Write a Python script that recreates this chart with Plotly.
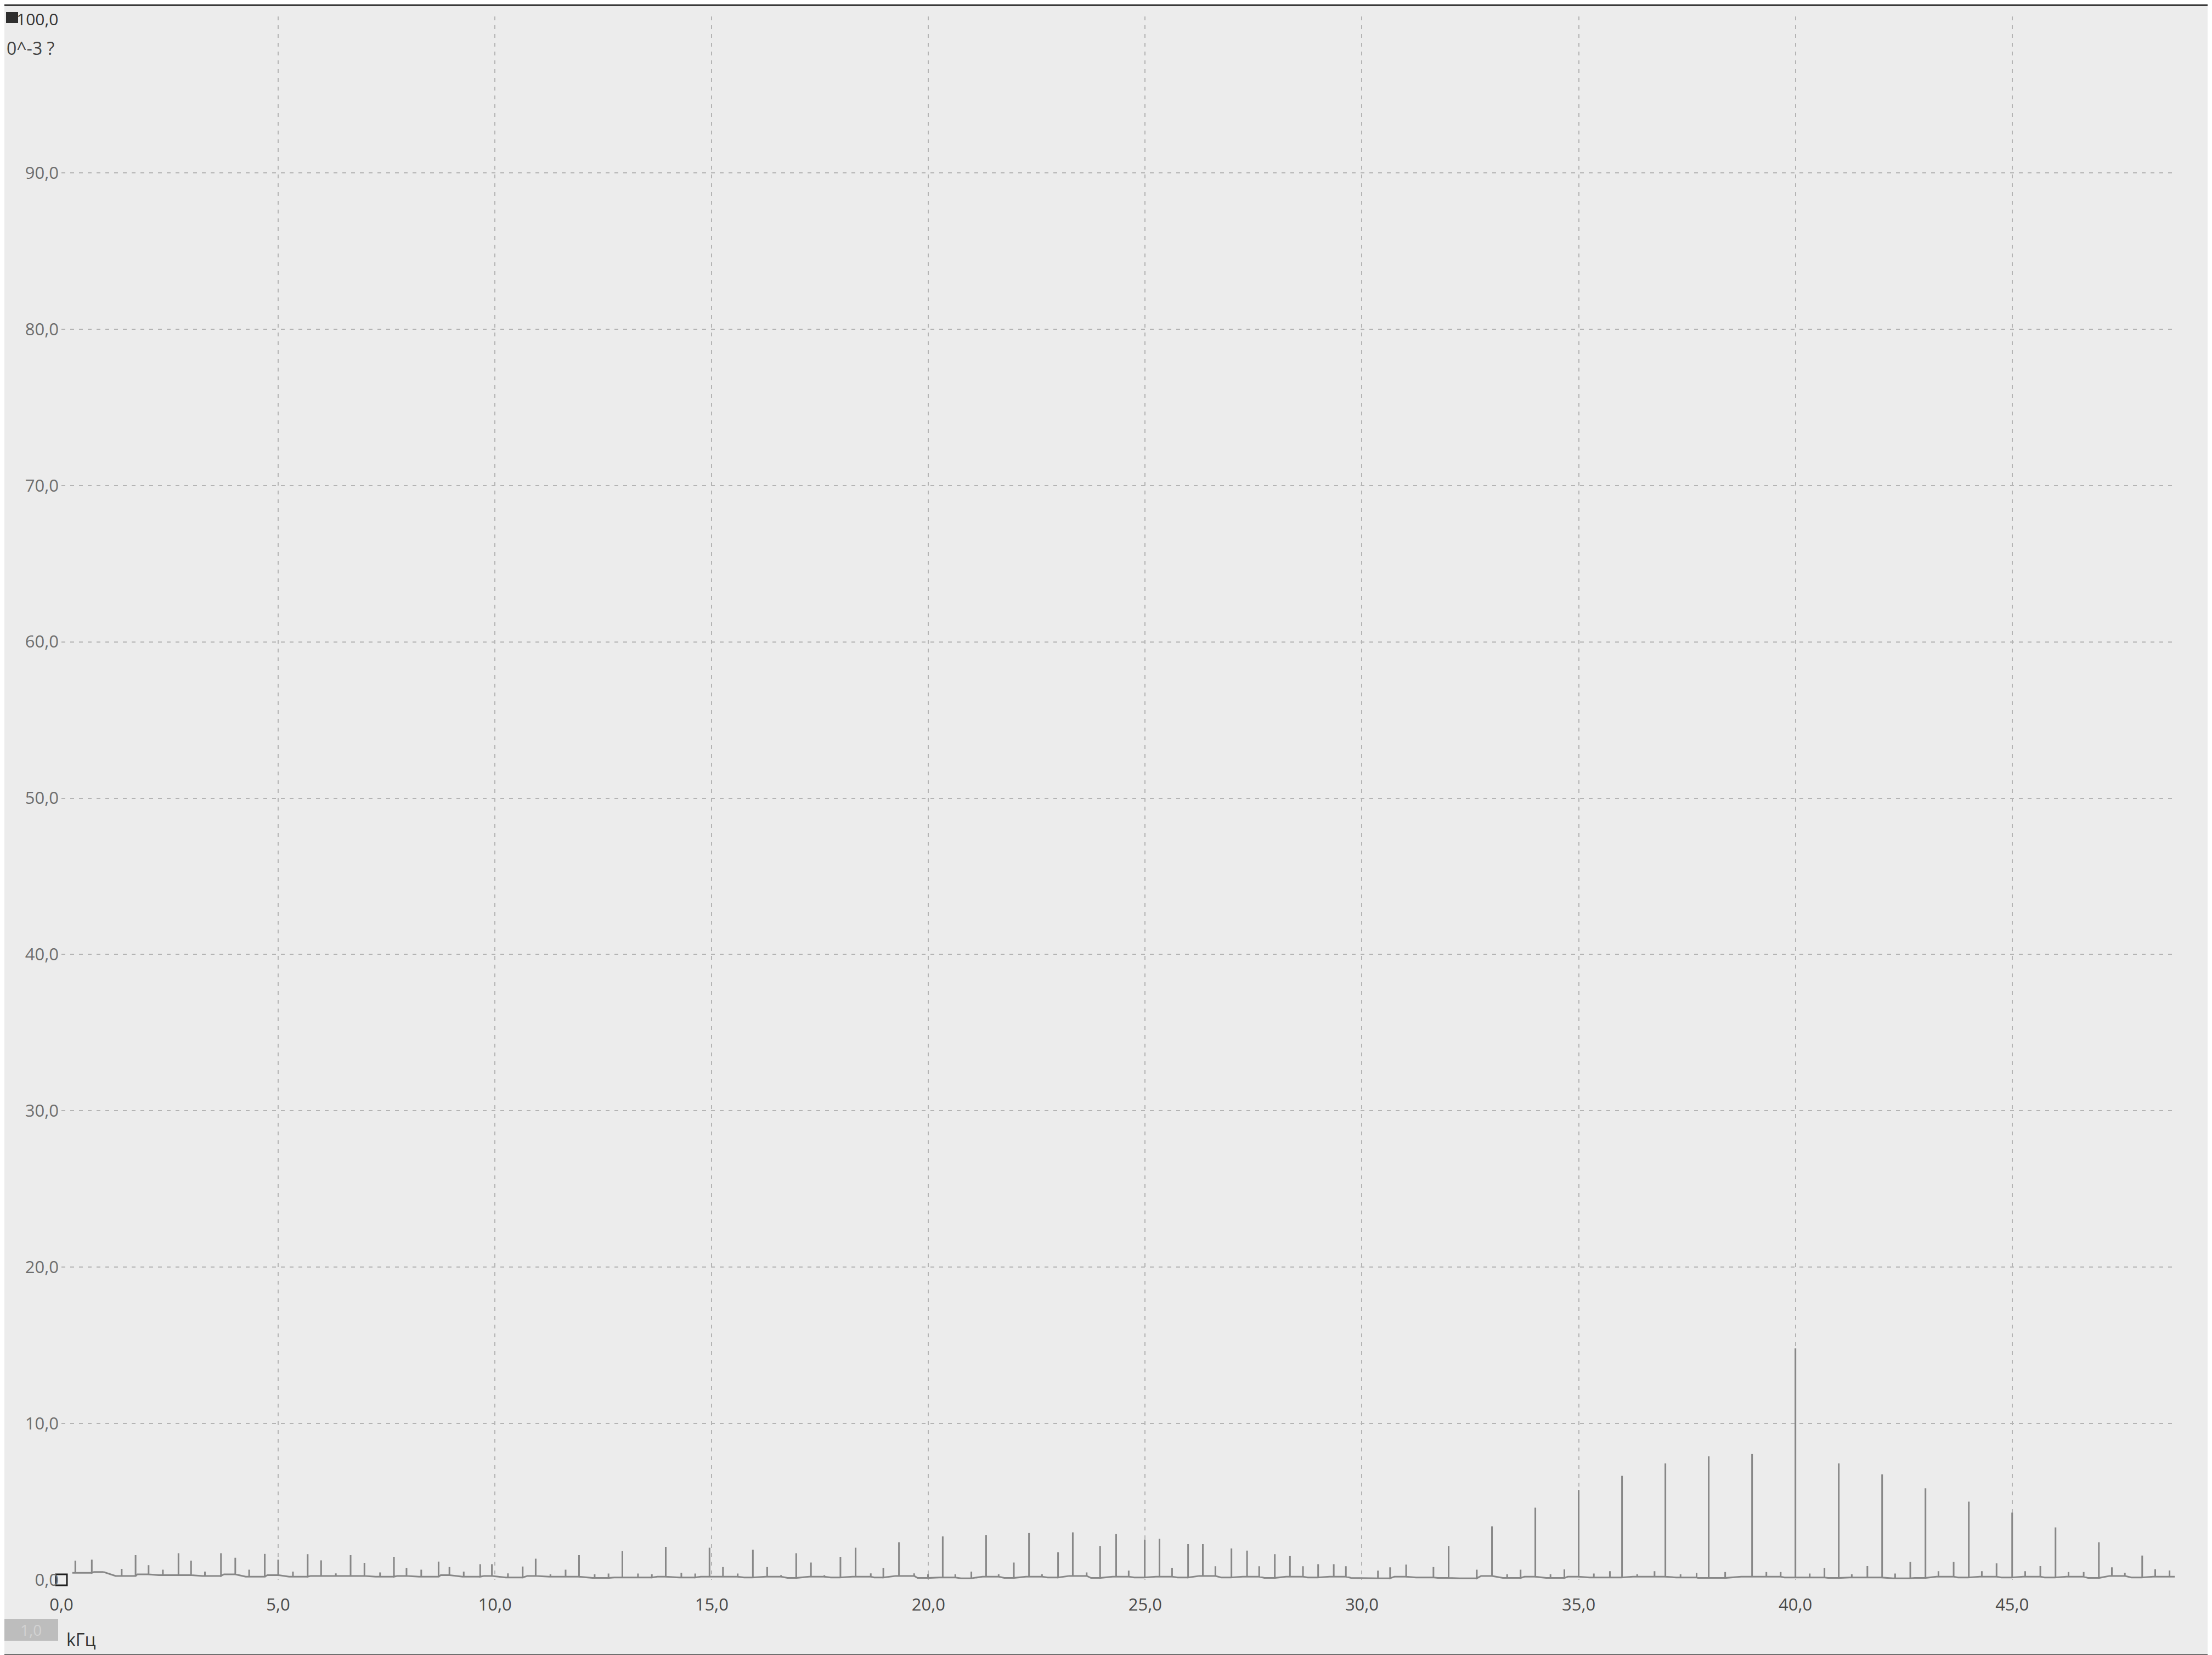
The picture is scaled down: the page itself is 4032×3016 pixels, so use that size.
import plotly.graph_objects as go

# ---------------- data ----------------
# noise-floor samples of the spectrum, kHz / 10^-3 units
floor_khz = [0.25, 0.75, 1.25, 1.75, 2.25, 2.75, 3.25, 3.75, 4.25, 4.75,
             5.25, 5.75, 6.25, 6.75, 7.25, 7.75, 8.25, 8.75, 9.25, 9.75,
             10.25, 10.75, 11.25, 11.75, 12.25, 12.75, 13.25, 13.75, 14.25, 14.75,
             15.25, 15.75, 16.25, 16.75, 17.25, 17.75, 18.25, 18.75, 19.25, 19.75,
             20.25, 20.75, 21.25, 21.75, 22.25, 22.75, 23.25, 23.75, 24.25, 24.75,
             25.25, 25.75, 26.25, 26.75, 27.25, 27.75, 28.25, 28.75, 29.25, 29.75,
             30.25, 30.75, 31.25, 31.75, 32.25, 32.75, 33.25, 33.75, 34.25, 34.75,
             35.25, 35.75, 36.25, 36.75, 37.25, 37.75, 38.25, 38.75, 39.25, 39.75,
             40.25, 40.75, 41.25, 41.75, 42.25, 42.75, 43.25, 43.75, 44.25, 44.75,
             45.25, 45.75, 46.25, 46.75, 47.25, 47.75, 48.25, 48.75]
floor_amp = [0.45, 0.50, 0.25, 0.35, 0.30, 0.30, 0.25, 0.35, 0.20, 0.30,
             0.20, 0.25, 0.25, 0.25, 0.20, 0.25, 0.20, 0.30, 0.20, 0.25,
             0.15, 0.25, 0.20, 0.20, 0.12, 0.15, 0.15, 0.20, 0.15, 0.20,
             0.20, 0.15, 0.20, 0.12, 0.20, 0.15, 0.20, 0.15, 0.25, 0.12,
             0.15, 0.10, 0.20, 0.12, 0.20, 0.15, 0.25, 0.12, 0.20, 0.15,
             0.20, 0.15, 0.25, 0.15, 0.20, 0.12, 0.20, 0.15, 0.20, 0.12,
             0.10, 0.20, 0.15, 0.12, 0.10, 0.25, 0.12, 0.20, 0.12, 0.20,
             0.15, 0.15, 0.20, 0.20, 0.15, 0.12, 0.12, 0.20, 0.20, 0.15,
             0.15, 0.12, 0.15, 0.15, 0.10, 0.12, 0.20, 0.15, 0.20, 0.15,
             0.20, 0.15, 0.20, 0.12, 0.25, 0.15, 0.20, 0.20]

# spectral lines
peak_khz = [0.32, 0.70, 0.97, 1.39, 1.71, 2.01, 2.34, 2.70, 2.99, 3.31,
            3.68, 4.01, 4.33, 4.69, 5.00, 5.34, 5.68, 5.99, 6.33, 6.67,
            6.99, 7.35, 7.67, 7.96, 8.30, 8.70, 8.95, 9.28, 9.66, 9.93,
            10.30, 10.64, 10.94, 11.28, 11.63, 11.94, 12.30, 12.62, 12.94, 13.30,
            13.62, 13.94, 14.30, 14.62, 14.95, 15.26, 15.60, 15.95, 16.28, 16.60,
            16.95, 17.29, 17.60, 17.97, 18.32, 18.67, 18.96, 19.32, 19.67, 19.99,
            20.33, 20.62, 20.99, 21.33, 21.62, 21.97, 22.32, 22.62, 22.99, 23.33,
            23.65, 23.96, 24.33, 24.62, 24.99, 25.33, 25.62, 25.99, 26.33, 26.62,
            26.99, 27.35, 27.63, 27.99, 28.34, 28.64, 28.99, 29.35, 29.63, 30.37,
            30.65, 31.02, 31.65, 32.00, 32.65, 33.00, 33.35, 33.66, 34.00, 34.35,
            34.67, 35.00, 35.35, 35.72, 36.00, 36.35, 36.75, 37.00, 37.35, 37.72,
            38.00, 38.38, 39.00, 39.33, 39.66, 40.00, 40.33, 40.67, 41.00, 41.30,
            41.66, 42.00, 42.30, 42.65, 43.00, 43.30, 43.65, 44.00, 44.30, 44.64,
            45.00, 45.30, 45.65, 46.00, 46.30, 46.65, 47.00, 47.30, 47.60, 48.00,
            48.30, 48.63]
peak_amp = [1.23, 1.29, 0.53, 0.70, 1.58, 0.94, 0.65, 1.70, 1.23, 0.53,
            1.70, 1.41, 0.65, 1.66, 1.29, 0.53, 1.64, 1.25, 0.41, 1.58,
            1.09, 0.47, 1.47, 0.76, 0.65, 1.17, 0.82, 0.53, 1.00, 1.00,
            0.41, 0.85, 1.35, 0.35, 0.65, 1.58, 0.35, 0.40, 1.84, 0.40,
            0.35, 2.11, 0.45, 0.40, 2.05, 0.82, 0.40, 1.93, 0.82, 0.30,
            1.70, 1.11, 0.30, 1.47, 2.05, 0.41, 0.76, 2.40, 0.41, 0.35,
            2.78, 0.35, 0.53, 2.87, 0.35, 1.11, 2.99, 0.35, 1.76, 3.04,
            0.47, 2.17, 2.93, 0.59, 2.58, 2.63, 0.76, 2.28, 2.28, 0.87,
            2.01, 1.87, 0.87, 1.64, 1.52, 0.87, 1.00, 1.00, 0.87, 0.59,
            0.80, 0.97, 0.82, 2.17, 0.65, 3.42, 0.35, 0.65, 4.62, 0.35,
            0.67, 5.75, 0.40, 0.55, 6.65, 0.35, 0.55, 7.45, 0.35, 0.44,
            7.90, 0.50, 8.05, 0.50, 0.50, 14.80, 0.40, 0.76, 7.45, 0.35,
            0.88, 6.75, 0.40, 1.15, 5.85, 0.55, 1.15, 5.00, 0.55, 1.05,
            4.30, 0.55, 0.88, 3.35, 0.50, 0.50, 2.40, 0.80, 0.45, 1.55,
            0.68, 0.60]

y_ticks = [0, 10, 20, 30, 40, 50, 60, 70, 80, 90, 100]
y_tick_text = ["0,0", "10,0", "20,0", "30,0", "40,0", "50,0", "60,0", "70,0",
               "80,0", "90,0", ""]
y_top_label = "100,0"
x_ticks = [0, 5, 10, 15, 20, 25, 30, 35, 40, 45]
x_tick_text = ["0,0", "5,0", "10,0", "15,0", "20,0", "25,0", "30,0", "35,0", "40,0", "45,0"]
x_range = [0, 48.8]
y_range = [0, 100]

# ---------------- build the spectrum line ----------------
events = sorted([(f, 0, a) for f, a in zip(floor_khz, floor_amp)] +
                [(f, 1, a) for f, a in zip(peak_khz, peak_amp)])
xs, ys = [], []
level = floor_amp[0]
for f, kind, a in events:
    if kind == 0:
        xs.append(f); ys.append(a); level = a
    else:
        xs += [f, f, f]; ys += [level, a, level]

W, H = 4032, 3016
L, R, T, B = 104, 72, 22, 145
PW, PH = W - L - R, H - T - B

def px(x):
    return (x - L) / PW

def py(y):
    return (H - B - y) / PH

FONT = "Open Sans"

fig = go.Figure()
fig.add_trace(go.Scatter(x=xs, y=ys, mode="lines",
                         line=dict(color="#878787", width=3),
                         hoverinfo="skip", showlegend=False))
fig.add_trace(go.Scatter(x=[0], y=[0], mode="markers", cliponaxis=False,
                         marker=dict(symbol="square-open", size=20,
                                     color="#1e1e1e", line=dict(width=3, color="#1e1e1e")),
                         hoverinfo="skip", showlegend=False))

grid = dict(showgrid=True, gridcolor="#b4b4b4", gridwidth=2, griddash="7px,9px",
            zeroline=False, showline=False, ticks="", automargin=False,
            ticklabeloverflow="allow")

fig.update_xaxes(range=x_range, tickmode="array", tickvals=x_ticks, ticktext=x_tick_text,
                 tickfont=dict(family=FONT, size=31, color="#4a4a4a"),
                 ticklabelstandoff=24, **grid)
fig.update_yaxes(range=y_range, tickmode="array", tickvals=y_ticks, ticktext=y_tick_text,
                 tickfont=dict(family=FONT, size=31, color="#6e6e6e"),
                 ticklabelstandoff=4, **grid)

shapes = [
    # dark screen frame (right, bottom, top)
    dict(type="rect", xref="paper", yref="paper", x0=px(4016), x1=px(4040),
         y0=py(3030), y1=py(-10), fillcolor="#151515", line=dict(width=0), layer="above"),
    dict(type="rect", xref="paper", yref="paper", x0=px(-10), x1=px(4040),
         y0=py(3030), y1=py(3007), fillcolor="#1a1a1a", line=dict(width=0), layer="above"),
    dict(type="rect", xref="paper", yref="paper", x0=px(-10), x1=px(4040),
         y0=py(3), y1=py(-10), fillcolor="#3a3a3a", line=dict(width=0), layer="above"),
    # small dark square at top-left
    dict(type="rect", xref="paper", yref="paper", x0=px(3), x1=px(25),
         y0=py(34), y1=py(14), fillcolor="#2e2e2e", line=dict(width=0), layer="above"),
    # grey box bottom-left
    dict(type="rect", xref="paper", yref="paper", x0=px(-5), x1=px(98),
         y0=py(2982), y1=py(2942), fillcolor="#bdbdbd", line=dict(width=0), layer="above"),
]

annotations = [
    dict(text=y_top_label, xref="paper", yref="paper", x=px(100), y=py(26),
         xanchor="right", yanchor="middle", showarrow=False,
         font=dict(family=FONT, size=30, color="#333333")),
    dict(text="0^-3 ?", xref="paper", yref="paper", x=px(2), y=py(79),
         xanchor="left", yanchor="middle", showarrow=False,
         font=dict(family=FONT, size=32, color="#444444")),
    dict(text="kГц", xref="paper", yref="paper", x=px(111), y=py(2979),
         xanchor="left", yanchor="middle", showarrow=False,
         font=dict(family=FONT, size=32, color="#333333")),
    dict(text="1,0", xref="paper", yref="paper", x=px(48), y=py(2962),
         xanchor="center", yanchor="middle", showarrow=False,
         font=dict(family=FONT, size=28, color="#d2d2d2")),
]

fig.update_layout(width=W, height=H,
                  margin=dict(l=L, r=R, t=T, b=B, pad=0, autoexpand=False),
                  paper_bgcolor="#ececec", plot_bgcolor="#ececec",
                  separators=", ",
                  shapes=shapes, annotations=annotations,
                  showlegend=False)

fig.write_html("out.html")
